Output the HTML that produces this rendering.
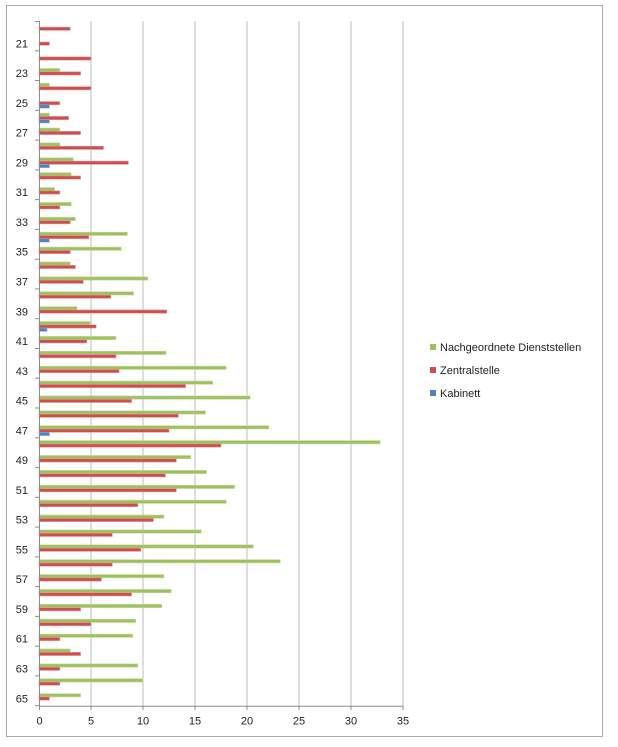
<!DOCTYPE html>
<html><head><meta charset="utf-8"><style>
html,body{margin:0;padding:0;background:#fff;}
svg{display:block;}
text{font-family:"Liberation Sans",sans-serif;font-size:11px;fill:#222;}
</style></head><body>
<svg width="618" height="747" viewBox="0 0 618 747" xmlns="http://www.w3.org/2000/svg">
<rect x="0" y="0" width="618" height="747" fill="#fff"/>
<rect x="6.5" y="5.5" width="596" height="731" fill="none" stroke="#555" stroke-width="1" stroke-dasharray="1,1"/>
<g stroke="#bdbdbd" stroke-width="1">
<line x1="91" y1="21" x2="91" y2="706"/>
<line x1="143" y1="21" x2="143" y2="706"/>
<line x1="195" y1="21" x2="195" y2="706"/>
<line x1="247" y1="21" x2="247" y2="706"/>
<line x1="299" y1="21" x2="299" y2="706"/>
<line x1="351" y1="21" x2="351" y2="706"/>
<line x1="403" y1="21" x2="403" y2="706"/>
</g>
<g fill="#9fc05f" stroke="#c3d99a" stroke-width="0.6">
<rect x="39" y="68.46" width="20.8" height="3.3"/>
<rect x="39" y="83.34" width="10.4" height="3.3"/>
<rect x="39" y="113.11" width="10.4" height="3.3"/>
<rect x="39" y="128.00" width="20.8" height="3.3"/>
<rect x="39" y="142.88" width="20.8" height="3.3"/>
<rect x="39" y="157.77" width="34.3" height="3.3"/>
<rect x="39" y="172.65" width="32.2" height="3.3"/>
<rect x="39" y="187.54" width="15.6" height="3.3"/>
<rect x="39" y="202.42" width="32.2" height="3.3"/>
<rect x="39" y="217.31" width="36.4" height="3.3"/>
<rect x="39" y="232.19" width="88.4" height="3.3"/>
<rect x="39" y="247.08" width="82.2" height="3.3"/>
<rect x="39" y="261.96" width="31.2" height="3.3"/>
<rect x="39" y="276.85" width="108.7" height="3.3"/>
<rect x="39" y="291.73" width="94.6" height="3.3"/>
<rect x="39" y="306.62" width="38.0" height="3.3"/>
<rect x="39" y="321.50" width="51.0" height="3.3"/>
<rect x="39" y="336.39" width="77.0" height="3.3"/>
<rect x="39" y="351.27" width="126.9" height="3.3"/>
<rect x="39" y="366.16" width="187.2" height="3.3"/>
<rect x="39" y="381.04" width="173.7" height="3.3"/>
<rect x="39" y="395.93" width="211.1" height="3.3"/>
<rect x="39" y="410.81" width="166.4" height="3.3"/>
<rect x="39" y="425.70" width="229.8" height="3.3"/>
<rect x="39" y="440.58" width="341.1" height="3.3"/>
<rect x="39" y="455.47" width="151.8" height="3.3"/>
<rect x="39" y="470.35" width="167.4" height="3.3"/>
<rect x="39" y="485.24" width="195.5" height="3.3"/>
<rect x="39" y="500.12" width="187.2" height="3.3"/>
<rect x="39" y="515.01" width="124.8" height="3.3"/>
<rect x="39" y="529.89" width="162.2" height="3.3"/>
<rect x="39" y="544.78" width="214.2" height="3.3"/>
<rect x="39" y="559.66" width="241.3" height="3.3"/>
<rect x="39" y="574.55" width="124.8" height="3.3"/>
<rect x="39" y="589.43" width="132.1" height="3.3"/>
<rect x="39" y="604.32" width="122.7" height="3.3"/>
<rect x="39" y="619.20" width="96.7" height="3.3"/>
<rect x="39" y="634.09" width="93.6" height="3.3"/>
<rect x="39" y="648.97" width="31.2" height="3.3"/>
<rect x="39" y="663.86" width="98.8" height="3.3"/>
<rect x="39" y="678.74" width="104" height="3.3"/>
<rect x="39" y="693.63" width="41.6" height="3.3"/>
</g>
<g fill="#c9504e" stroke="#e59a98" stroke-width="0.6">
<rect x="39" y="27.10" width="31.2" height="3.3"/>
<rect x="39" y="41.99" width="10.4" height="3.3"/>
<rect x="39" y="56.87" width="52" height="3.3"/>
<rect x="39" y="71.76" width="41.6" height="3.3"/>
<rect x="39" y="86.64" width="52" height="3.3"/>
<rect x="39" y="101.53" width="20.8" height="3.3"/>
<rect x="39" y="116.41" width="29.6" height="3.3"/>
<rect x="39" y="131.30" width="41.6" height="3.3"/>
<rect x="39" y="146.18" width="64.5" height="3.3"/>
<rect x="39" y="161.07" width="89.4" height="3.3"/>
<rect x="39" y="175.95" width="41.6" height="3.3"/>
<rect x="39" y="190.84" width="20.8" height="3.3"/>
<rect x="39" y="205.72" width="20.8" height="3.3"/>
<rect x="39" y="220.61" width="31.2" height="3.3"/>
<rect x="39" y="235.49" width="49.9" height="3.3"/>
<rect x="39" y="250.38" width="31.2" height="3.3"/>
<rect x="39" y="265.26" width="36.4" height="3.3"/>
<rect x="39" y="280.15" width="44.3" height="3.3"/>
<rect x="39" y="295.03" width="71.8" height="3.3"/>
<rect x="39" y="309.92" width="127.9" height="3.3"/>
<rect x="39" y="324.80" width="57.2" height="3.3"/>
<rect x="39" y="339.69" width="47.8" height="3.3"/>
<rect x="39" y="354.57" width="77.0" height="3.3"/>
<rect x="39" y="369.46" width="80.1" height="3.3"/>
<rect x="39" y="384.34" width="146.6" height="3.3"/>
<rect x="39" y="399.23" width="92.6" height="3.3"/>
<rect x="39" y="414.11" width="139.4" height="3.3"/>
<rect x="39" y="429.00" width="130" height="3.3"/>
<rect x="39" y="443.88" width="182" height="3.3"/>
<rect x="39" y="458.77" width="137.3" height="3.3"/>
<rect x="39" y="473.65" width="126.4" height="3.3"/>
<rect x="39" y="488.54" width="137.3" height="3.3"/>
<rect x="39" y="503.42" width="98.8" height="3.3"/>
<rect x="39" y="518.31" width="114.4" height="3.3"/>
<rect x="39" y="533.19" width="73.3" height="3.3"/>
<rect x="39" y="548.08" width="101.9" height="3.3"/>
<rect x="39" y="562.96" width="73.3" height="3.3"/>
<rect x="39" y="577.85" width="62.4" height="3.3"/>
<rect x="39" y="592.73" width="92.6" height="3.3"/>
<rect x="39" y="607.62" width="41.6" height="3.3"/>
<rect x="39" y="622.50" width="52" height="3.3"/>
<rect x="39" y="637.39" width="20.8" height="3.3"/>
<rect x="39" y="652.27" width="41.6" height="3.3"/>
<rect x="39" y="667.16" width="20.8" height="3.3"/>
<rect x="39" y="682.04" width="20.8" height="3.3"/>
<rect x="39" y="696.93" width="10.4" height="3.3"/>
</g>
<g fill="#4f81bd" stroke="#8fb0dc" stroke-width="0.6">
<rect x="39" y="104.83" width="10.4" height="3.3"/>
<rect x="39" y="119.71" width="10.4" height="3.3"/>
<rect x="39" y="164.37" width="10.4" height="3.3"/>
<rect x="39" y="238.79" width="10.4" height="3.3"/>
<rect x="39" y="328.10" width="8.0" height="3.3"/>
<rect x="39" y="432.30" width="10.4" height="3.3"/>
</g>
<g stroke="#8c8c8c" stroke-width="1">
<line x1="39.5" y1="21" x2="39.5" y2="706"/>
<line x1="39" y1="706.2" x2="403" y2="706.2"/>
<line x1="35" y1="21.5" x2="39" y2="21.5"/>
<line x1="35" y1="50.8" x2="39" y2="50.8"/>
<line x1="35" y1="80.5" x2="39" y2="80.5"/>
<line x1="35" y1="110.3" x2="39" y2="110.3"/>
<line x1="35" y1="140.1" x2="39" y2="140.1"/>
<line x1="35" y1="169.9" x2="39" y2="169.9"/>
<line x1="35" y1="199.6" x2="39" y2="199.6"/>
<line x1="35" y1="229.4" x2="39" y2="229.4"/>
<line x1="35" y1="259.2" x2="39" y2="259.2"/>
<line x1="35" y1="288.9" x2="39" y2="288.9"/>
<line x1="35" y1="318.7" x2="39" y2="318.7"/>
<line x1="35" y1="348.5" x2="39" y2="348.5"/>
<line x1="35" y1="378.2" x2="39" y2="378.2"/>
<line x1="35" y1="408.0" x2="39" y2="408.0"/>
<line x1="35" y1="437.8" x2="39" y2="437.8"/>
<line x1="35" y1="467.6" x2="39" y2="467.6"/>
<line x1="35" y1="497.3" x2="39" y2="497.3"/>
<line x1="35" y1="527.1" x2="39" y2="527.1"/>
<line x1="35" y1="556.9" x2="39" y2="556.9"/>
<line x1="35" y1="586.6" x2="39" y2="586.6"/>
<line x1="35" y1="616.4" x2="39" y2="616.4"/>
<line x1="35" y1="646.2" x2="39" y2="646.2"/>
<line x1="35" y1="675.9" x2="39" y2="675.9"/>
<line x1="35" y1="705.7" x2="39" y2="705.7"/>
<line x1="39.5" y1="706" x2="39.5" y2="710"/>
<line x1="91" y1="706" x2="91" y2="710"/>
<line x1="143" y1="706" x2="143" y2="710"/>
<line x1="195" y1="706" x2="195" y2="710"/>
<line x1="247" y1="706" x2="247" y2="710"/>
<line x1="299" y1="706" x2="299" y2="710"/>
<line x1="351" y1="706" x2="351" y2="710"/>
<line x1="403" y1="706" x2="403" y2="710"/>
</g>
<g text-anchor="end">
<text x="28" y="47.3">21</text>
<text x="28" y="77.1">23</text>
<text x="28" y="106.9">25</text>
<text x="28" y="136.6">27</text>
<text x="28" y="166.4">29</text>
<text x="28" y="196.2">31</text>
<text x="28" y="225.9">33</text>
<text x="28" y="255.7">35</text>
<text x="28" y="285.5">37</text>
<text x="28" y="315.3">39</text>
<text x="28" y="345.0">41</text>
<text x="28" y="374.8">43</text>
<text x="28" y="404.6">45</text>
<text x="28" y="434.3">47</text>
<text x="28" y="464.1">49</text>
<text x="28" y="493.9">51</text>
<text x="28" y="523.6">53</text>
<text x="28" y="553.4">55</text>
<text x="28" y="583.2">57</text>
<text x="28" y="613.0">59</text>
<text x="28" y="642.7">61</text>
<text x="28" y="672.5">63</text>
<text x="28" y="702.3">65</text>
</g>
<g text-anchor="middle">
<text x="39.5" y="724.5">0</text>
<text x="91" y="724.5">5</text>
<text x="143" y="724.5">10</text>
<text x="195" y="724.5">15</text>
<text x="247" y="724.5">20</text>
<text x="299" y="724.5">25</text>
<text x="351" y="724.5">30</text>
<text x="403" y="724.5">35</text>
</g>
<rect x="430" y="344" width="6" height="6" fill="#9fc05f"/>
<text x="440" y="351">Nachgeordnete Dienststellen</text>
<rect x="430" y="367" width="6" height="6" fill="#c9504e"/>
<text x="440" y="374">Zentralstelle</text>
<rect x="430" y="390" width="6" height="6" fill="#4f81bd"/>
<text x="440" y="397">Kabinett</text>
</svg>
</body></html>
